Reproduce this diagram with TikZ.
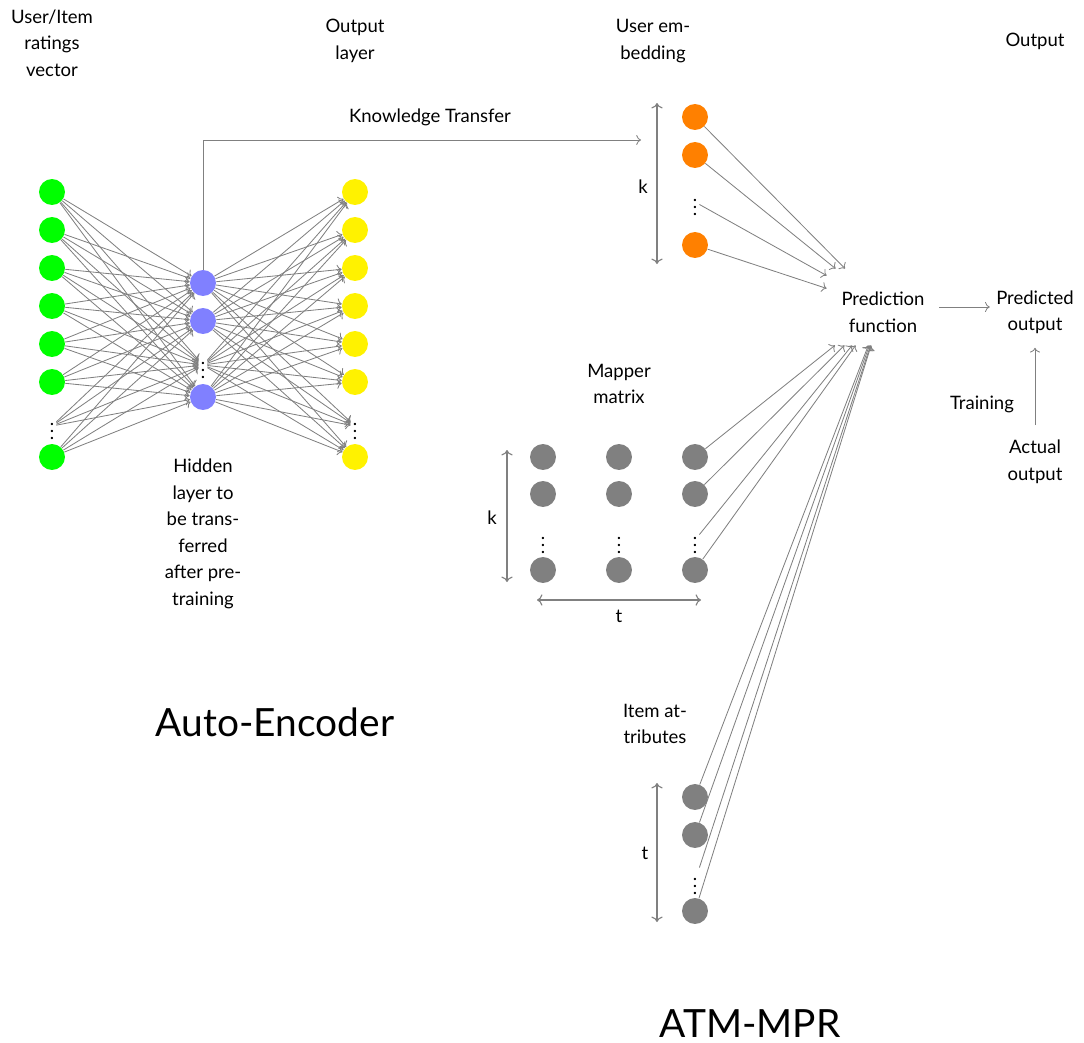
\documentclass[tikz,border=0pt]{standalone}
\usepackage{fontspec}
\setmainfont{Lato}
\usetikzlibrary{arrows.meta}
\begin{document}
\begin{tikzpicture}[x=0.54pt,y=-0.54pt,
  txt/.style={align=center,font=\fontsize{10}{14.3}\selectfont,inner sep=2pt},
  big/.style={font=\fontsize{21}{25}\selectfont},
  neuron/.style={circle,minimum size=14pt,inner sep=0pt},
  dotsn/.style={inner sep=1pt,font=\fontsize{10}{12}\selectfont},
  edge/.style={draw=gray,line width=0.45pt,->},
  dim/.style={draw=gray,line width=0.6pt,<->}]
\useasboundingbox (0,0) rectangle (1084,1043);

% ---------------- Auto-encoder ----------------
\foreach \i in {1,...,6}
  \node[neuron,fill=green] (I-\i) at (52,{192+38*(\i-1)}) {};
\node[dotsn] (I-7) at (52,426) {$\vdots$};
\node[neuron,fill=green] (I-8) at (52,457) {};

\node[neuron,fill=blue!50] (H-1) at (203,283) {};
\node[neuron,fill=blue!50] (H-2) at (203,321) {};
\node[dotsn] (H-3) at (203,365) {$\vdots$};
\node[neuron,fill=blue!50] (H-4) at (203,397) {};

\foreach \i in {1,...,6}
  \node[neuron,fill=yellow] (O-\i) at (355,{192+38*(\i-1)}) {};
\node[dotsn] (O-7) at (355,426) {$\vdots$};
\node[neuron,fill=yellow] (O-8) at (355,457) {};

\foreach \i in {1,...,8}
  \foreach \j in {1,...,4}
    \draw[edge] (I-\i) -- (H-\j);
\foreach \j in {1,...,4}
  \foreach \k in {1,...,8}
    \draw[edge] (H-\j) -- (O-\k);

\node[txt] (lin) at (52,43) {User/Item\\ratings\\vector};
\node[txt] (lout) at (355,41) {Output\\layer};
\node[txt] (lhid) at (203,534) {Hidden\\layer to\\be trans-\\ferred\\after pre-\\training};
\node[big] (ae) at (275,722) {Auto-Encoder};

% knowledge transfer
\coordinate (kt) at (641,140);
\draw[edge] (H-1) |- (kt);
\node[txt] (lkt) at (430,117) {Knowledge Transfer};

% ---------------- User embedding ----------------
\node[neuron,fill=orange] (U-1) at (695,117) {};
\node[neuron,fill=orange] (U-2) at (695,155) {};
\node[dotsn] (U-3) at (695,202) {$\vdots$};
\node[neuron,fill=orange] (U-4) at (695,245) {};
\node[txt] (lemb) at (653,41) {User em-\\bedding};
\coordinate (k1a) at (657,103);
\coordinate (k1b) at (657,264);
\draw[dim] (k1a) -- (k1b);
\node[txt] (k1) at (643,187) {k};

% prediction
\node[txt,minimum width=60.5pt,minimum height=41pt] (pred) at (883,307) {\rule{0pt}{13pt}Prediction\\function};
\node[txt,inner sep=3.3pt] (pout) at (1035,307) {\rule{0pt}{13pt}Predicted\\output};
\node[txt] (act) at (1035,462) {Actual\\output};
\node[txt] (ltr) at (982,404) {Training};
\node[txt] (lo) at (1035,41) {Output};
\draw[edge] (pred) -- (pout);
\draw[edge,shorten <=6pt,shorten >=4pt] (act) -- (pout);

\foreach \i in {1,...,4}
  \draw[edge] (U-\i) -- (pred);

% ---------------- Mapper matrix ----------------
\foreach \c/\x in {1/543,2/619,3/695}{
  \node[neuron,fill=gray] (M-1-\c) at (\x,457) {};
  \node[neuron,fill=gray] (M-2-\c) at (\x,494) {};
  \node[dotsn] (M-3-\c) at (\x,540) {$\vdots$};
  \node[neuron,fill=gray] (M-4-\c) at (\x,570) {};
}
\node[txt] (lmap) at (619,384) {Mapper\\matrix};
\coordinate (k2a) at (507,450);
\coordinate (k2b) at (507,582);
\draw[dim] (k2a) -- (k2b);
\node[txt] (k2) at (492,518) {k};
\coordinate (t1a) at (537,600);
\coordinate (t1b) at (701,600);
\draw[dim] (t1a) -- (t1b);
\node[txt] (t1) at (619,616) {t};
\foreach \r in {1,...,4}
  \draw[edge] (M-\r-3) -- (pred);

% ---------------- Item attributes ----------------
\node[neuron,fill=gray] (A-1) at (695,797) {};
\node[neuron,fill=gray] (A-2) at (695,835) {};
\node[dotsn] (A-3) at (695,881) {$\vdots$};
\node[neuron,fill=gray] (A-4) at (695,911) {};
\node[txt] (lit) at (655,724) {Item at-\\tributes};
\coordinate (t2a) at (657,783);
\coordinate (t2b) at (657,922);
\draw[dim] (t2a) -- (t2b);
\node[txt] (t2) at (645,853) {t};
\foreach \i in {1,...,4}
  \draw[edge] (A-\i) -- (pred);

\node[big] (atm) at (750,1024) {ATM-MPR};
\end{tikzpicture}
\end{document}
